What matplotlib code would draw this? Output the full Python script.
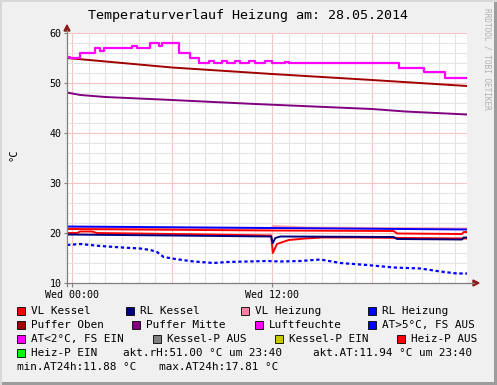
import numpy as np
import matplotlib
matplotlib.use('Agg')
import matplotlib.pyplot as plt
from matplotlib.patches import Rectangle, Polygon

W, H = 497, 385
plt.rcParams['font.family'] = 'DejaVu Sans Mono'

# hours since Wed 00:00
hum_t = [-0.3, -0.1, 0.5, 1.4, 1.7, 1.9, 3.6, 3.9, 4.7, 5.2, 5.4, 6.4, 7.1, 7.6, 8.2, 8.5,
         9.0, 9.3, 9.8, 10.1, 10.6, 11.0, 11.6, 12.0, 12.8, 13.0, 19.6, 21.1, 22.4, 23.7]
hum_v = [55.3, 55.0, 56.0, 57.0, 56.5, 57.0, 57.5, 57.0, 58.0, 57.5, 58.0, 56.0, 55.0, 54.0,
         54.5, 54.0, 54.5, 54.0, 54.5, 54.0, 54.5, 54.0, 54.5, 54.0, 54.3, 54.0, 53.0, 52.2, 51.0, 51.0]

oben_t = [-0.3, 6, 12, 18, 23.7]
oben_v = [55.0, 53.1, 51.8, 50.6, 49.4]

mitte_t = [-0.3, 0.5, 2, 6, 11, 18, 20, 23.7]
mitte_v = [48.1, 47.6, 47.2, 46.6, 45.8, 44.8, 44.3, 43.7]

rlh_t = [-0.3, 12, 23.7]
rlh_v = [21.3, 21.0, 20.7]

vlh_t = [-0.3, 11.9, 12.1, 14, 23.7]
vlh_v = [21.0, 20.9, 21.4, 21.1, 20.9]

red2_t = [-0.3, 12, 19.3, 19.5, 23.4, 23.5, 23.7]
red2_v = [20.8, 20.5, 20.4, 19.9, 19.8, 20.2, 20.2]

vlk_t = [-0.3, 0.3, 0.5, 1.2, 1.5, 6, 11.95, 12.05, 12.3, 13, 14, 15, 17, 23.7]
vlk_v = [20.0, 20.0, 20.3, 20.3, 20.0, 19.8, 19.5, 16.0, 17.8, 18.6, 18.9, 19.1, 19.1, 18.9]

rlk_t = [-0.3, 6, 11.95, 12.05, 12.2, 12.5, 19.3, 19.5, 23.4, 23.5, 23.7]
rlk_v = [19.7, 19.5, 19.3, 18.0, 19.0, 19.3, 19.2, 18.8, 18.7, 19.1, 19.1]

at_t = [-0.3, 0.5, 1.7, 3.0, 4.1, 4.7, 5.1, 5.5, 6.2, 7.3, 8.5, 9.3, 10.5, 11.7, 12.5,
        13.7, 14.9, 16.1, 17.7, 19.3, 20.9, 22.1, 23.1, 23.7]
at_v = [17.6, 17.8, 17.4, 17.1, 16.9, 16.6, 16.2, 15.2, 14.8, 14.3, 14.0, 14.2, 14.3, 14.4,
        14.3, 14.4, 14.7, 14.0, 13.6, 13.1, 12.9, 12.3, 11.9, 11.9]

legend_rows = [
    [('VL Kessel', '#ff0000', 17), ('RL Kessel', '#000080', 126),
     ('VL Heizung', '#ff80a0', 241), ('RL Heizung', '#0000ff', 368)],
    [('Puffer Oben', '#a00000', 17), ('Puffer Mitte', '#800080', 132),
     ('Luftfeuchte', '#ff00ff', 255), ('AT>5°C, FS AUS', '#0000ff', 368)],
    [('AT<2°C, FS EIN', '#ff00ff', 17), ('Kessel-P AUS', '#808080', 153),
     ('Kessel-P EIN', '#c8c800', 275), ('Heiz-P AUS', '#ff0000', 397)],
    [('Heiz-P EIN', '#00ff00', 17)],
]

fig = plt.figure(figsize=(W / 100, H / 100), dpi=100, facecolor='#f0f0f0')


def fx(x):
    return x / W


def fy(y):
    return 1 - y / H


# frame border
fig.add_artist(Rectangle((fx(494), 0), fx(3), 1, transform=fig.transFigure, color='#9c9c9c', lw=0))
fig.add_artist(Rectangle((0, 0), 1, 3 / H, transform=fig.transFigure, color='#9c9c9c', lw=0))
fig.add_artist(Rectangle((0, fy(2)), 1, 2 / H, transform=fig.transFigure, color='#d8d8d8', lw=0))
fig.add_artist(Rectangle((0, 0), fx(2), 1, transform=fig.transFigure, color='#d8d8d8', lw=0))

ax = fig.add_axes([fx(67), fy(283), fx(400), 250 / H])
ax.set_facecolor('white')
ax.set_xlim(-0.3, 23.7)
ax.set_ylim(10, 60)

for h in range(0, 24):
    c = '#f7c4c4' if h % 6 == 0 else '#e4e4e4'
    ax.axvline(h, color=c, lw=0.8, zorder=0)
for v in range(12, 61, 2):
    c = '#f7c4c4' if v % 10 == 0 else '#e4e4e4'
    ax.axhline(v, color=c, lw=0.8, zorder=0)

ax.plot(vlh_t, vlh_v, color='#ff9aa8', lw=1.4)
ax.plot(rlh_t, rlh_v, color='#0000ff', lw=1.4)
ax.plot(red2_t, red2_v, color='#ff0000', lw=1.4)
ax.plot(vlk_t, vlk_v, color='#ff0000', lw=1.4)
ax.plot(rlk_t, rlk_v, color='#000080', lw=1.4)
ax.plot(oben_t, oben_v, color='#a00000', lw=1.4)
ax.plot(mitte_t, mitte_v, color='#800080', lw=1.4)
ax.plot(hum_t, hum_v, color='#ff00ff', lw=1.6, drawstyle='steps-post')
ax.plot(at_t, at_v, color='#0000ff', lw=1.6, ls=(0, (1.5, 1.2)))

for s in ax.spines.values():
    s.set_visible(False)
ax.set_xticks([0, 12])
ax.set_xticklabels(['Wed 00:00', 'Wed 12:00'], fontsize=7.2)
ax.set_yticks([10, 20, 30, 40, 50, 60])
ax.set_yticklabels(['10', '20', '30', '40', '50', '60'], fontsize=7.2)
ax.tick_params(axis='x', length=3, color='#808080', pad=2)
ax.tick_params(axis='y', length=2, color='#808080', pad=2)

# axes with arrows
fig.add_artist(plt.Line2D([fx(67), fx(67)], [fy(286), fy(30)], transform=fig.transFigure, color='#808080', lw=0.9))
fig.add_artist(plt.Line2D([fx(67), fx(474)], [fy(283), fy(283)], transform=fig.transFigure, color='#808080', lw=0.9))
fig.add_artist(Polygon([(fx(64), fy(31)), (fx(70), fy(31)), (fx(67), fy(25))], closed=True,
                       transform=fig.transFigure, color='#8b1a1a'))
fig.add_artist(Polygon([(fx(473), fy(280)), (fx(473), fy(286)), (fx(479), fy(283))], closed=True,
                       transform=fig.transFigure, color='#8b1a1a'))

fig.text(fx(248), fy(16), 'Temperaturverlauf Heizung am: 28.05.2014', ha='center', va='center', fontsize=9.6)
fig.text(fx(14), fy(155), '°C', rotation=90, ha='center', va='center', fontsize=7.5)
fig.text(fx(487), fy(8), 'RRDTOOL / TOBI OETIKER', rotation=270, ha='center', va='top',
         fontsize=5.6, color='#b0b0b0')

ys = [311, 325, 339, 353]
for y, row in zip(ys, legend_rows):
    for label, col, x in row:
        fig.add_artist(Rectangle((fx(x), fy(y + 4)), fx(8), 8 / H, transform=fig.transFigure,
                                 facecolor=col, edgecolor='black', lw=0.6))
        fig.text(fx(x + 14), fy(y), label, ha='left', va='center', fontsize=7.9)

fig.text(fx(123), fy(353), 'akt.rH:51.00 °C um 23:40', ha='left', va='center', fontsize=7.9)
fig.text(fx(313), fy(353), 'akt.AT:11.94 °C um 23:40', ha='left', va='center', fontsize=7.9)
fig.text(fx(17), fy(367), 'min.AT24h:11.88 °C', ha='left', va='center', fontsize=7.9)
fig.text(fx(159), fy(367), 'max.AT24h:17.81 °C', ha='left', va='center', fontsize=7.9)

fig.savefig('out.png', dpi=100, facecolor=fig.get_facecolor())
